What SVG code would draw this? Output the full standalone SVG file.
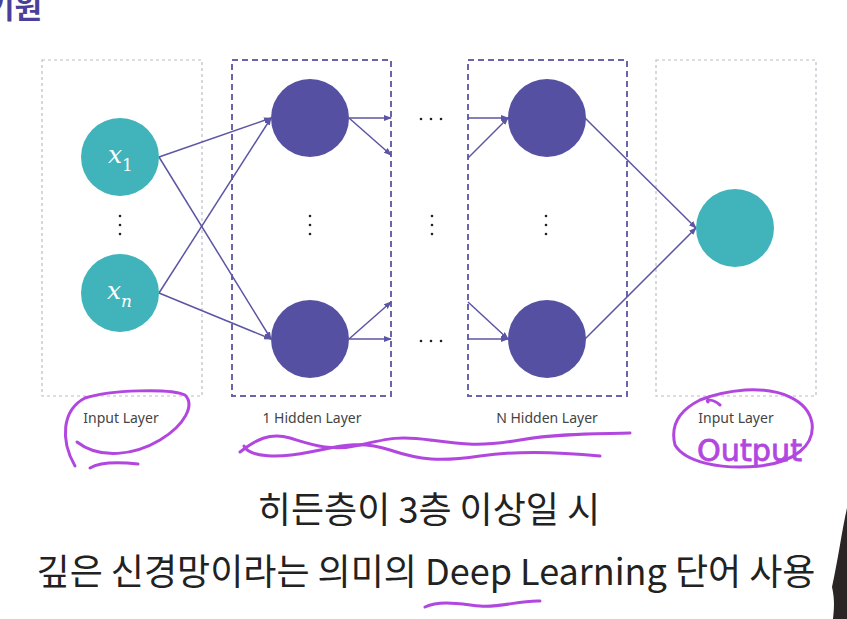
<svg xmlns="http://www.w3.org/2000/svg" width="847" height="619" viewBox="0 0 847 619">
<style>
.lbl{font-family:"Noto Sans","Liberation Sans",sans-serif;font-size:14px;fill:#444;text-anchor:middle}
.kr{font-family:"Noto Sans CJK KR","Noto Sans",sans-serif;fill:#222;font-size:36px;text-anchor:middle}
.boxg{fill:none;stroke:#c4b9c6;stroke-width:1.2;stroke-dasharray:3 3}
.boxp{fill:none;stroke:#6a64ad;stroke-width:2;stroke-dasharray:6 4}
.teal{fill:#40b4ba}
.purp{fill:#5550a1}
.edge{stroke:#5b55a4;stroke-width:1.5;fill:none;marker-end:url(#ah)}
.dot{fill:#222}
.math{font-family:"DejaVu Serif","Liberation Serif",serif;fill:#fff}
.ink{fill:none;stroke:#b247e0;stroke-width:3;stroke-linecap:round;stroke-linejoin:round}
</style>
<defs>
<marker id="ah" markerWidth="8" markerHeight="6" refX="7" refY="3" orient="auto" markerUnits="userSpaceOnUse">
<path d="M0,0 L8,3 L0,6 z" fill="#5b55a4"/>
</marker>
</defs>
<rect width="847" height="619" fill="#fff"/>
<text x="-13" y="18" font-family="Noto Sans CJK KR,sans-serif" font-weight="bold" font-size="30" fill="#4a3f99">기원</text>

<g id="boxes">
<rect class="boxg" x="42" y="60" width="160" height="336"/>
<rect class="boxp" x="232" y="60" width="159" height="336"/>
<rect class="boxp" x="468" y="60" width="159" height="336"/>
<rect class="boxg" x="656" y="60" width="160" height="336"/>
</g>

<g id="connectors">
<line class="edge" x1="159" y1="157" x2="271" y2="118"/>
<line class="edge" x1="159" y1="157" x2="271" y2="339"/>
<line class="edge" x1="159" y1="293" x2="271" y2="118"/>
<line class="edge" x1="159" y1="293" x2="271" y2="339"/>
<line class="edge" x1="349" y1="118" x2="391" y2="118"/>
<line class="edge" x1="349" y1="118" x2="391" y2="155"/>
<line class="edge" x1="349" y1="339" x2="391" y2="302"/>
<line class="edge" x1="349" y1="339" x2="391" y2="339"/>
<line class="edge" x1="468" y1="118" x2="508" y2="118"/>
<line class="edge" x1="468" y1="158" x2="508" y2="118"/>
<line class="edge" x1="468" y1="302" x2="508" y2="339"/>
<line class="edge" x1="468" y1="339" x2="508" y2="339"/>
<line class="edge" x1="585" y1="118" x2="696" y2="228"/>
<line class="edge" x1="585" y1="339" x2="696" y2="228"/>
</g>

<g id="node-x1">
<circle class="teal" cx="120" cy="157" r="39"/>
<text class="math" x="108" y="163" font-size="25" font-style="italic">x</text>
<text class="math" x="122" y="171" font-size="17">1</text>
</g>
<g id="node-xn">
<circle class="teal" cx="120" cy="293" r="39"/>
<text class="math" x="107" y="299" font-size="25" font-style="italic">x</text>
<text class="math" x="121" y="307" font-size="17" font-style="italic">n</text>
</g>
<g id="node-h1-top"><circle class="purp" cx="310" cy="118" r="39"/></g>
<g id="node-h1-bottom"><circle class="purp" cx="310" cy="339" r="39"/></g>
<g id="node-hn-top"><circle class="purp" cx="547" cy="118" r="39"/></g>
<g id="node-hn-bottom"><circle class="purp" cx="547" cy="339" r="39"/></g>
<g id="node-out"><circle class="teal" cx="735" cy="228" r="39"/></g>

<g id="ellipses">
<circle class="dot" cx="120" cy="216" r="1.3"/><circle class="dot" cx="120" cy="225" r="1.3"/><circle class="dot" cx="120" cy="234" r="1.3"/>
<circle class="dot" cx="310" cy="216" r="1.3"/><circle class="dot" cx="310" cy="225" r="1.3"/><circle class="dot" cx="310" cy="234" r="1.3"/>
<circle class="dot" cx="432" cy="216" r="1.3"/><circle class="dot" cx="432" cy="225" r="1.3"/><circle class="dot" cx="432" cy="234" r="1.3"/>
<circle class="dot" cx="546" cy="216" r="1.3"/><circle class="dot" cx="546" cy="225" r="1.3"/><circle class="dot" cx="546" cy="234" r="1.3"/>
<circle class="dot" cx="421" cy="119" r="1.3"/><circle class="dot" cx="431" cy="119" r="1.3"/><circle class="dot" cx="441" cy="119" r="1.3"/>
<circle class="dot" cx="421" cy="341" r="1.3"/><circle class="dot" cx="431" cy="341" r="1.3"/><circle class="dot" cx="441" cy="341" r="1.3"/>
</g>

<g id="labels">
<text class="lbl" x="121" y="423">Input Layer</text>
<text class="lbl" x="312" y="423">1 Hidden Layer</text>
<text class="lbl" x="547" y="423">N Hidden Layer</text>
<text class="lbl" x="736" y="423">Input Layer</text>
</g>

<g id="caption">
<text class="kr" x="429" y="523">히든층이 3층 이상일 시</text>
<text class="kr" x="426" y="585">깊은 신경망이라는 의미의 Deep Learning 단어 사용</text>
</g>

<g id="annotations">
<path class="ink" d="M75,466 C60,440 62,410 85,398 C110,390 170,388 185,395 C195,405 185,425 160,440 C135,455 100,460 77,442"/>
<path class="ink" d="M90,468 C100,462 120,462 138,464"/>
<path class="ink" d="M240,452 C255,440 270,432 290,438 S330,452 360,445 S400,436 430,440 S480,447 520,440 S600,434 630,433"/>
<path class="ink" d="M244,446 C250,458 280,458 310,452 S360,440 390,450 S440,462 480,456 S560,452 600,456"/>
<path class="ink" d="M720,405 C712,398 705,400 708,402 M700,400 C680,410 670,425 675,445 C685,462 720,470 760,466 C795,462 815,445 812,423 C808,400 780,388 745,390 C720,392 705,398 700,400"/>
<text x="697" y="461" font-family="DejaVu Sans,sans-serif" font-size="30" fill="#b247e0" stroke="#b247e0" stroke-width="0.8" textLength="105" lengthAdjust="spacingAndGlyphs">Output</text>
<path class="ink" d="M425,607 C440,600 460,604 480,606 S520,600 540,601"/>
</g>

<path d="M847,508 C842,530 838,560 832,587 C835,600 834,610 833,619 L847,619 z" fill="#2b2525"/>
</svg>
